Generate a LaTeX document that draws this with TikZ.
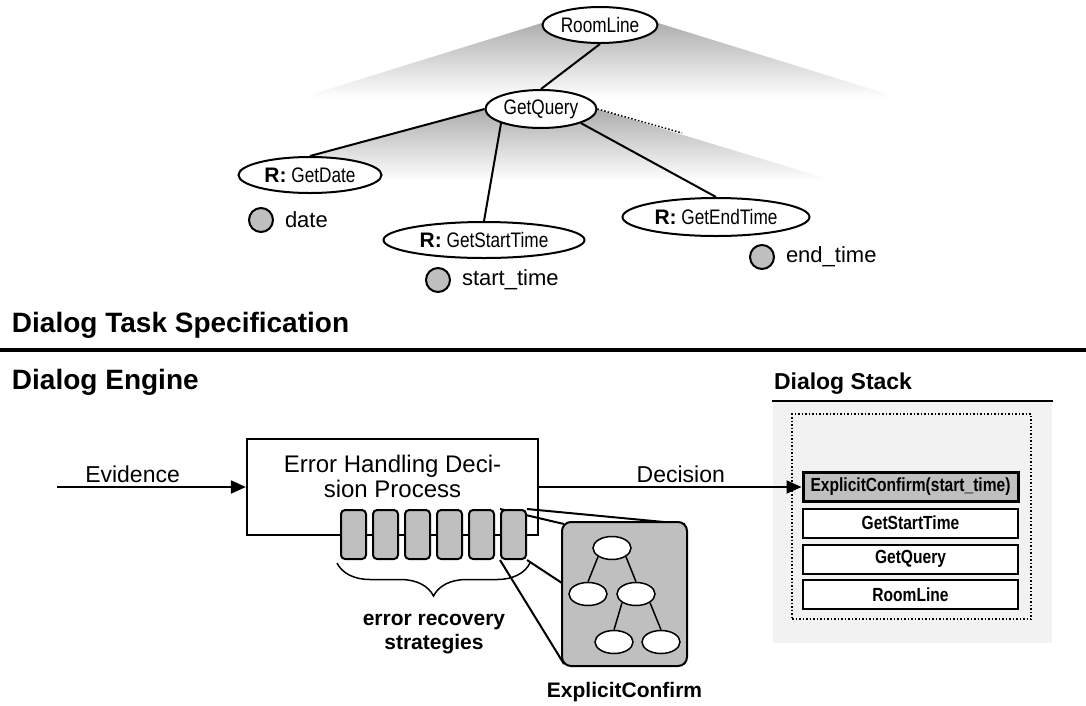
\documentclass[tikz,border=0pt]{standalone}
\usepackage{fontspec}
\setmainfont{Liberation Sans}
\newfontfamily\narrowsans[FakeStretch=0.82]{Liberation Sans}
\usetikzlibrary{positioning,arrows.meta,shapes.geometric,decorations.pathreplacing,backgrounds}

\newcommand{\rtag}{\textbf{\rmfamily R:}\ }

\begin{document}
\begin{tikzpicture}[
  x=1pt, y=-1pt,
  >={Triangle[length=15pt,width=13pt]},
  line width=2pt,
  font=\fontsize{23}{26}\selectfont,
  task/.style={draw, ellipse, fill=white, inner sep=0pt, minimum height=36pt,
    font=\narrowsans\fontsize{21}{24}\selectfont},
  slot/.style={draw, circle, fill=black!25, minimum size=24pt, inner sep=0pt},
  slotname/.style={anchor=west, inner sep=0pt, font=\fontsize{22}{26}\selectfont},
  heading/.style={anchor=base west, inner sep=0pt, font=\bfseries\fontsize{28}{32}\selectfont},
  strat/.style={draw, rounded corners=4pt, fill=black!25, minimum width=25pt, minimum height=49pt, inner sep=0pt},
  mini/.style={draw, ellipse, fill=white, line width=1.5pt, minimum width=38pt, minimum height=23pt, inner sep=0pt},
  stackframe/.style={draw, fill=white, minimum width=215pt, minimum height=29pt, inner sep=0pt,
    font=\narrowsans\bfseries\fontsize{19}{22}\selectfont},
  flow/.style={->, line width=2pt},
  zoomline/.style={draw, line width=2pt},
  fan/.style={top color=black!32, bottom color=white, draw=none}
]
\useasboundingbox (0,0) rectangle (1086,705);

% Shaded fans behind the task tree
\shade[fan] (545,22) -- (655,22) -- (900,98) -- (300,98) -- cycle;
\shade[fan] (486,109) -- (597,109) -- (835,181) -- (222,181) -- cycle;

% Task tree
\node[task, minimum width=115pt] (room) at (600,25) {RoomLine};
\node[task, minimum width=111pt, minimum height=38pt] (query) at (541,109) {GetQuery};
\node[task, minimum width=143pt] (date) at (310,175) {\rtag GetDate};
\node[task, minimum width=201pt] (start) at (484,240) {\rtag GetStartTime};
\node[task, minimum width=187pt, minimum height=38pt] (endt) at (716,217) {\rtag GetEndTime};

\draw (room.south) -- (query.north);
\draw (query.west) -- (date.north);
\draw (query.south west) -- (start.north);
\draw (query.south east) -- (endt.north);
\coordinate (qtail) at (682,133);
\draw[dotted, line width=1.5pt] (query.east) -- (qtail);

% Concept slots
\node[slot] (dateslot) at (261,220) {};
\node[slotname, right=10pt of dateslot] (datename) {date};
\node[slot] (startslot) at (438,280) {};
\node[slotname, right=10pt of startslot] (startname) {start\_time};
\node[slot] (endslot) at (762,257) {};
\node[slotname, right=10pt of endslot] (endname) {end\_time};

% Section headings
\node[heading] (taskhead) at (11,332) {Dialog Task Specification};
\draw[line width=3.5pt] (0,350) -- (1086,350);
\node[heading] (enginehead) at (11,389) {Dialog Engine};

% Error handling process
\node[draw, line width=2.2pt, minimum width=291pt, minimum height=96pt] (errbox) at (392.5,487) {};
\node[below=16pt of errbox.north, align=center, inner sep=0pt, font=\fontsize{24}{25}\selectfont] (errtext)
  {Error Handling Deci-\\sion Process};

\foreach \i in {1,...,6}
  \node[strat] (s\i) at ({321.5+32*\i},534.5) {};

\draw[decorate, decoration={brace, amplitude=33pt}, line width=1.5pt]
  ([xshift=3pt, yshift=-3pt]s6.south east) -- ([xshift=-3pt, yshift=-3pt]s1.south west);
\node[anchor=north, align=center, inner sep=0pt, font=\bfseries\fontsize{21}{24}\selectfont] (stratname)
  at (434,613) {error recovery\\strategies};

% Zoomed strategy
\node[draw, rounded corners=9pt, fill=black!25, minimum width=125pt, minimum height=144pt] (ecbox) at (624.5,594) {};
\node[mini] (m1) at (612,548) {};
\node[mini] (m2) at (588,594) {};
\node[mini] (m3) at (636,594) {};
\node[mini] (m4) at (614,642) {};
\node[mini] (m5) at (661,642) {};
\draw[line width=1.5pt] (m1.south west) -- (m2.north);
\draw[line width=1.5pt] (m1.south east) -- (m3.north);
\draw[line width=1.5pt] (m3.south west) -- (m4.north);
\draw[line width=1.5pt] (m3.south east) -- (m5.north);
\node[below=14pt of ecbox, inner sep=0pt, font=\bfseries\fontsize{21}{24}\selectfont] (ecname) {ExplicitConfirm};

\begin{scope}[on background layer]
  \path[zoomline] (s6.north west) -- ([xshift=3pt, yshift=-3pt]ecbox.north west);
  \path[zoomline] (s6.north east) -- ([xshift=-3pt, yshift=-3pt]ecbox.north east);
  \path[zoomline] (s6.south west) -- ([xshift=3pt, yshift=3pt]ecbox.south west);
  \path[zoomline] (s6.south east) -- ([xshift=-3pt, yshift=3pt]ecbox.south east);
\end{scope}

% Dialog stack
\node[fill=black!5, minimum width=279pt, minimum height=241pt, inner sep=0pt] (stackbg) at (912.5,522.5) {};
\draw (stackbg.north west) -- (stackbg.north east);
\node[heading, font=\bfseries\fontsize{23}{26}\selectfont] (stackhead) at (773,389) {Dialog Stack};
\node[draw, dotted, line width=1.5pt, minimum width=239pt, minimum height=205pt, inner sep=0pt] (stackbox) at (911.5,516.5) {};
\node[stackframe, fill=black!25, line width=3pt] (topframe) at (910.5,487) {ExplicitConfirm(start\_time)};
\node[stackframe] (stframe) at (910.5,523) {GetStartTime};
\node[stackframe] (gqframe) at (910.5,559) {GetQuery};
\node[stackframe] (rlframe) at (910.5,594.5) {RoomLine};

% Evidence in, decision out
\coordinate (evsrc) at (57,487);
\draw[flow] (evsrc) -- node[above, pos=0.4] (evlabel) {Evidence} (errbox);
\draw[flow] (errbox) -- node[above, pos=0.54] (declabel) {Decision} (topframe);

\end{tikzpicture}
\end{document}
